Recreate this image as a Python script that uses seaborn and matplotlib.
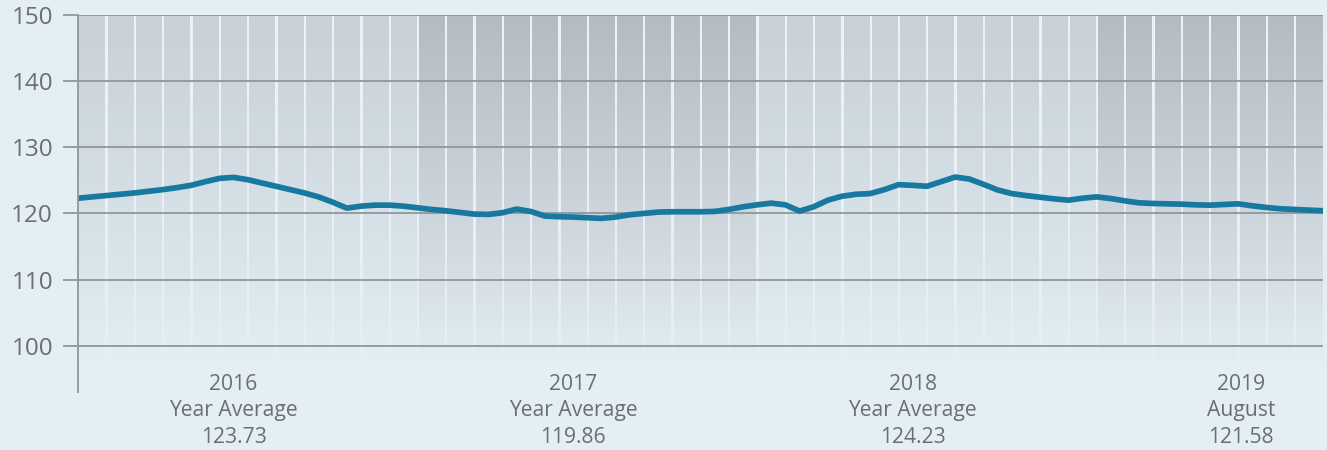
import numpy as np
import pandas as pd
import matplotlib
matplotlib.use("Agg")
import matplotlib.pyplot as plt
import matplotlib.transforms as mtransforms
from matplotlib.colors import LinearSegmentedColormap
import seaborn as sns

# Price index, sampled twice a month from January 2016 to the end of August 2019
index_values = [
    122.3, 122.5, 122.7, 122.9, 123.1, 123.35, 123.6, 123.9, 124.25, 124.8,
    125.3, 125.45, 125.1, 124.6, 124.1, 123.6, 123.1, 122.5, 121.7, 120.8,
    121.1, 121.25, 121.25, 121.1, 120.85, 120.6, 120.4, 120.15, 119.9, 119.85,
    120.1, 120.65, 120.3, 119.6, 119.5, 119.45, 119.35, 119.25, 119.45, 119.8,
    120.0, 120.2, 120.25, 120.25, 120.25, 120.3, 120.6, 121.0, 121.3, 121.55,
    121.3, 120.35, 121.0, 122.0, 122.6, 122.9, 123.0, 123.6, 124.35, 124.25,
    124.1, 124.8, 125.5, 125.2, 124.4, 123.55, 123.0, 122.7, 122.45, 122.2,
    122.0, 122.3, 122.5, 122.25, 121.9, 121.6, 121.5, 121.45, 121.4, 121.3,
    121.25, 121.35, 121.45, 121.15, 120.9, 120.7, 120.6, 120.5, 120.4,
]

years = ["2016", "2017", "2018", "2019"]
months_per_year = [12, 12, 12, 8]
summary_titles = ["Year Average", "Year Average", "Year Average", "August"]
summary_values = [123.73, 119.86, 124.23, 121.58]
y_ticks = [100, 110, 120, 130, 140, 150]

BG = "#e4eef5"
LINE = "#17799f"
GRID = "#8e979e"
TEXT = "#6b6f73"
LIGHT_TOP = "#c8d1d8"
DARK_TOP = "#b5bbc3"
SEP_TOP = "#edf3f6"

sns.set_theme(style="white")
plt.rcParams["font.family"] = ["Open Sans", "DejaVu Sans"]

W, H = 1327, 450
fig = plt.figure(figsize=(W / 100, H / 100), dpi=100, facecolor=BG)
ax = fig.add_axes([78 / W, 1 - 392 / H, (1323 - 78) / W, (392 - 15) / H])
ax.set_facecolor(BG)

n_months = sum(months_per_year)
y_min, y_max = 93, 150
fade_bottom = 97.5
grad = (np.linspace(1, 0, 256) ** 0.85).reshape(-1, 1)

# light backdrop that shows through the gaps between monthly columns
sep_cmap = LinearSegmentedColormap.from_list("sep", [BG, SEP_TOP])
ax.imshow(grad, extent=(0, n_months, fade_bottom, y_max), cmap=sep_cmap,
          vmin=0, vmax=1, aspect="auto", origin="upper", zorder=0.5,
          interpolation="bilinear")

# one shaded column per month, alternating tone by year
gap = 0.055
month = 0
for k, n in enumerate(months_per_year):
    top = DARK_TOP if k % 2 else LIGHT_TOP
    cmap = LinearSegmentedColormap.from_list(f"col{k}", [BG, top])
    for _ in range(n):
        left = month + (gap if month > 0 else 0)
        right = month + 1 - (gap if month < n_months - 1 else 0)
        ax.imshow(grad, extent=(left, right, fade_bottom, y_max), cmap=cmap,
                  vmin=0, vmax=1, aspect="auto", origin="upper", zorder=1,
                  interpolation="bilinear")
        month += 1

df = pd.DataFrame({
    "month": np.arange(len(index_values)) / 2,
    "index": index_values,
})
sns.lineplot(data=df, x="month", y="index", ax=ax, color=LINE, linewidth=4.1,
             zorder=5, solid_joinstyle="round", solid_capstyle="round")

ax.set_xlim(0, n_months)
ax.set_ylim(y_min, y_max)
ax.set_yticks(y_ticks)
ax.set_xticks([])
ax.set_xlabel("")
ax.set_ylabel("")
ax.set_axisbelow(False)
ax.grid(axis="y", color=GRID, linewidth=1.3)
ax.grid(axis="x", visible=False)
ax.tick_params(axis="y", which="major", left=True, length=11, width=1.3,
               color=GRID, pad=7, labelsize=17.5, labelcolor=TEXT)
for side in ["top", "right", "bottom"]:
    ax.spines[side].set_visible(False)
ax.spines["left"].set_color(GRID)
ax.spines["left"].set_linewidth(1.3)
ax.spines["left"].set_zorder(6)

# summary captions under each year
trans = mtransforms.blended_transform_factory(ax.transData, fig.transFigure)
start = 0
for k, (yr, n) in enumerate(zip(years, months_per_year)):
    xpos = start + (5.5 if n == 12 else n / 2 + 1.1)
    ax.text(xpos, 1 - 374 / H, f"{yr}\n{summary_titles[k]}\n{summary_values[k]:.2f}",
            transform=trans, ha="center", va="top", fontsize=15.2,
            color=TEXT, linespacing=1.33, clip_on=False)
    start += n

fig.savefig("out.png", dpi=100, facecolor=BG)
